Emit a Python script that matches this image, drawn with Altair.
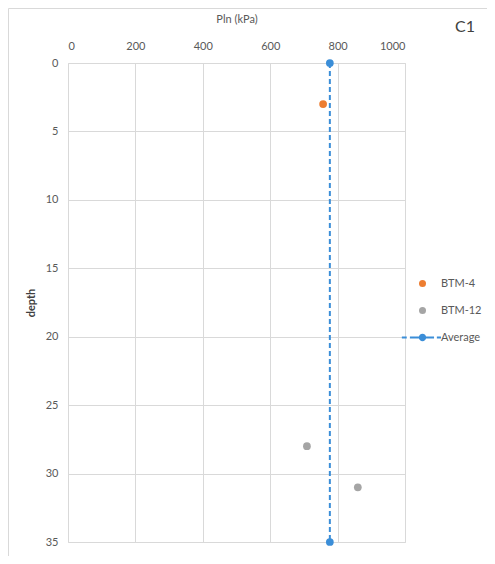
import altair as alt
import pandas as pd

# ---- data ----
series_names = ["BTM-4", "BTM-12", "Average"]
series_colors = ["#ED7D31", "#A5A5A5", "#3B8ED8"]

btm4_depth = [3]
btm4_pln = [757]

btm12_depth = [28, 31]
btm12_pln = [709, 860]

avg_depth = [0, 35]
avg_pln = [777, 777]

x_ticks = [0, 200, 400, 600, 800, 1000]
y_ticks = [0, 5, 10, 15, 20, 25, 30, 35]

rows = []
for d, p in zip(btm4_depth, btm4_pln):
    rows.append({"series": "BTM-4", "depth": d, "pln": p})
for d, p in zip(btm12_depth, btm12_pln):
    rows.append({"series": "BTM-12", "depth": d, "pln": p})
for d, p in zip(avg_depth, avg_pln):
    rows.append({"series": "Average", "depth": d, "pln": p})
df = pd.DataFrame(rows)
df_avg = df[df["series"] == "Average"]

FONT = "Lato"
GREY = "#595959"

x_enc = alt.X(
    "pln:Q",
    scale=alt.Scale(domain=[0, 1000], nice=False),
    axis=alt.Axis(
        orient="top", values=x_ticks, format="d", title="Pln (kPa)", titlePadding=16,
        labelPadding=12, ticks=False, domain=False, grid=True,
        gridColor="#d9d9d9", labelColor=GREY, titleColor=GREY,
        titleFontWeight="normal", labelFontSize=11, titleFontSize=11,
        labelFont=FONT, titleFont=FONT,
    ),
)
y_enc = alt.Y(
    "depth:Q",
    scale=alt.Scale(domain=[0, 35], reverse=True, nice=False),
    axis=alt.Axis(
        values=y_ticks, title="depth", titlePadding=9, labelPadding=10,
        ticks=False, domain=False, grid=True, gridColor="#d9d9d9",
        labelColor=GREY, titleColor="#404040", titleFontWeight="bold",
        labelFontSize=11, titleFontSize=11, labelFont=FONT, titleFont=FONT,
    ),
)

# dashed line + dot legend symbol, drawn as filled shapes (units of 3.5 px)
def rect(a, b, h=0.29):
    return f"M{a},{-h}L{b},{-h}L{b},{h}L{a},{h}Z"

avg_path = (rect(-5.9, -4.5) + rect(-3.6, -1.9) + rect(-1.9, 1.9) + rect(1.9, 3.3)
            + rect(4.1, 5.3)
            + "M1.05,0A1.05,1.05,0,1,1,-1.05,0A1.05,1.05,0,1,1,1.05,0Z")

line = alt.Chart(df_avg).mark_line(
    color="#3B8ED8", strokeDash=[5, 3], strokeWidth=2
).encode(x=x_enc, y=y_enc, order="depth:Q")

points = alt.Chart(df).mark_point(filled=True, opacity=1, size=60).encode(
    x=x_enc,
    y=y_enc,
    color=alt.Color(
        "series:N",
        scale=alt.Scale(domain=series_names, range=series_colors),
        legend=alt.Legend(
            title=None, orient="none", legendX=349, legendY=215,
            symbolSize=49,
            symbolType={"expr": "datum.value === 'Average' ? '" + avg_path + "' : 'circle'"},
            labelOffset=13,
            rowPadding=15, labelFont=FONT, labelFontSize=11,
            labelColor=GREY, padding=0, symbolOpacity=1, symbolStrokeWidth=0,
        ),
    ),
)

c1 = alt.Chart(pd.DataFrame({"t": ["C1"]})).mark_text(
    align="left", baseline="middle", fontSize=16, color="#404040", font=FONT
).encode(text="t:N", x=alt.value(387), y=alt.value(-36))

top_border = alt.Chart(pd.DataFrame({"a": [0]})).mark_rule(
    color="#d9d9d9", strokeWidth=1
).encode(x=alt.value(-59.5), x2=alt.value(419), y=alt.value(-54.5))
left_border = alt.Chart(pd.DataFrame({"a": [0]})).mark_rule(
    color="#d9d9d9", strokeWidth=1
).encode(x=alt.value(-59.5), y=alt.value(-54.5), y2=alt.value(493))

chart = alt.layer(top_border, left_border, line, points, c1).properties(
    width=337, height=479,
    autosize=alt.AutoSizeParams(type="none"),
    padding={"left": 60, "top": 55, "right": 82, "bottom": 14},
).configure_view(stroke=None).configure(background="white")

chart.save("out.html", embed_options={"renderer": "svg", "actions": False})
